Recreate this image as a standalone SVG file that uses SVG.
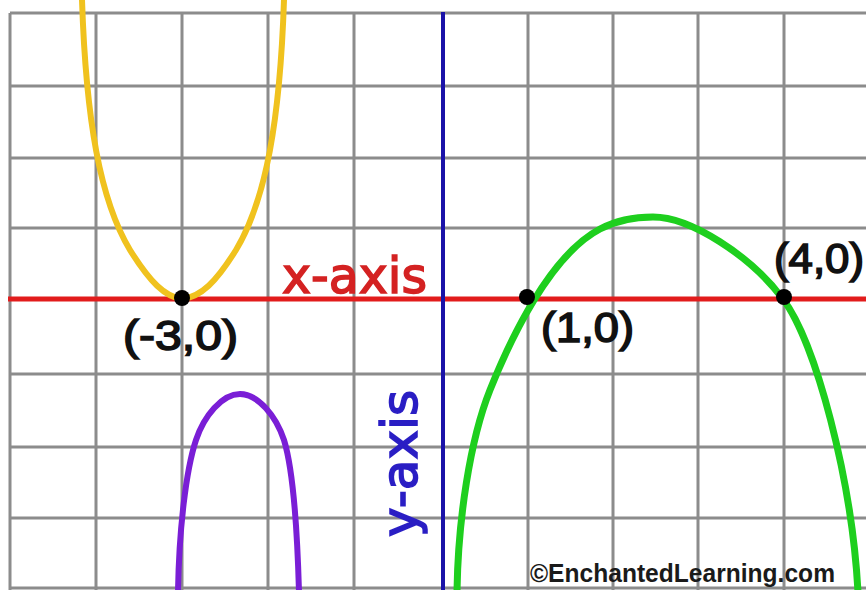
<svg xmlns="http://www.w3.org/2000/svg" width="866" height="590" viewBox="0 0 866 590">
  <style>
    .grid { stroke: #8c8c8c; stroke-width: 3; fill: none; }
    .curve { fill: none; stroke-linecap: round; stroke-linejoin: round; }
    .pt { fill: #000; }
    .coord { font-family: "Liberation Sans", Arial, sans-serif; font-size: 42px; fill: #111; stroke: #111; stroke-width: 1.6; }
    .axislbl { font-family: "DejaVu Sans", "Liberation Sans", sans-serif; font-size: 50px; stroke-width: 1.6; }
  </style>
  <rect x="0" y="0" width="866" height="590" fill="#fff"/>
  <g id="grid">
    <path class="grid" d="M10,13 V590 M96,13 V590 M182,13 V590 M268,13 V590 M354,13 V590 M528,13 V590 M613,13 V590 M698,13 V590 M784,13 V590"/>
    <path class="grid" d="M10,13 H866 M10,86 H866 M10,158 H866 M10,228 H866 M10,374 H866 M10,447 H866 M10,518 H866 M10,588 H866"/>
  </g>
  <g id="axes">
    <line id="x-axis" x1="8" y1="299" x2="866" y2="299" stroke="#e21c1c" stroke-width="5"/>
    <line id="y-axis" x1="443" y1="12" x2="443" y2="590" stroke="#1a12a8" stroke-width="4"/>
  </g>
  <g id="curves">
    <path id="yellow" class="curve" stroke="#f0c21e" stroke-width="6" d="M82,0 C86,120 100,200 130,250 C150,282 165,297 182,299 C201,297 216,282 236,250 C266,200 280,120 284,0"/>
    <path id="purple" class="curve" stroke="#7a1ed6" stroke-width="6" d="M178,592 C179,530 186,470 196,440 C204,416 222,394 240,394 C258,394 276,416 284,440 C292,466 297,520 299,592"/>
    <path id="green" class="curve" stroke="#1ecf1e" stroke-width="7" d="M457,592 C458,520 470,440 490,390 C510,340 550,255 600,229 C619,219 637,217 653,217 C690,217 750,255 783,299 C816,343 852,480 858,592"/>
  </g>
  <g id="points">
    <circle id="p-3" class="pt" cx="182" cy="298" r="8"/>
    <circle id="p1" class="pt" cx="527" cy="297" r="8"/>
    <circle id="p4" class="pt" cx="784" cy="297" r="8"/>
  </g>
  <g id="labels">
    <text class="axislbl" x="282" y="293" fill="#d42222" stroke="#d42222" textLength="145" lengthAdjust="spacingAndGlyphs">x-axis</text>
    <text class="axislbl" transform="translate(417,537) rotate(-90)" x="0" y="0" fill="#2a1ec4" stroke="#2a1ec4" textLength="147" lengthAdjust="spacingAndGlyphs">y-axis</text>
    <text class="coord" x="123" y="350" textLength="115" lengthAdjust="spacingAndGlyphs">(-3,0)</text>
    <text class="coord" x="541" y="342" textLength="93" lengthAdjust="spacingAndGlyphs">(1,0)</text>
    <text class="coord" x="774" y="273" textLength="90" lengthAdjust="spacingAndGlyphs">(4,0)</text>
    <text x="530" y="582" font-family="Liberation Sans, Arial, sans-serif" font-size="26" font-weight="bold" fill="#1a1a1a" textLength="305" lengthAdjust="spacingAndGlyphs">©EnchantedLearning.com</text>
  </g>
</svg>
